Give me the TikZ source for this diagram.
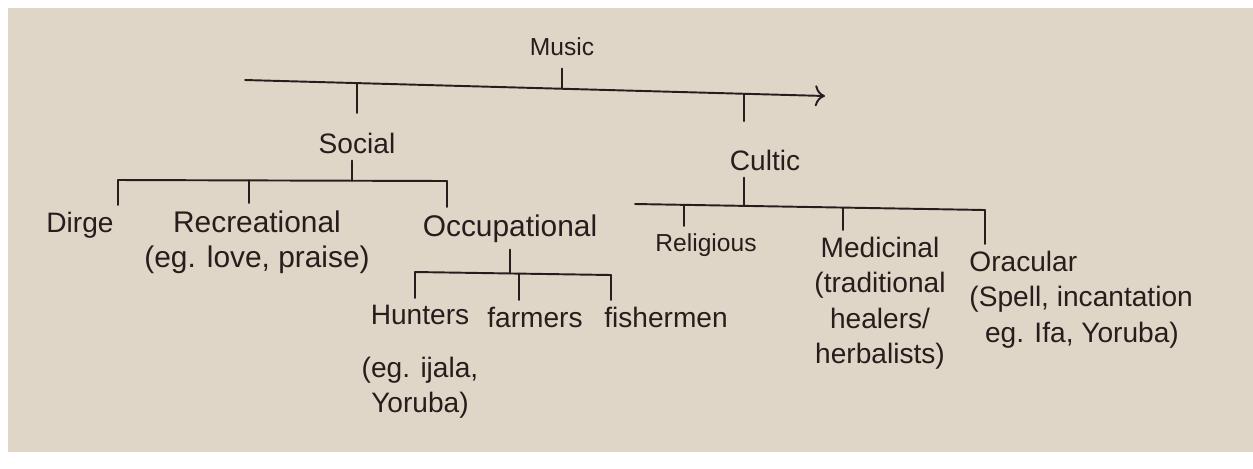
\documentclass[tikz,border=0pt]{standalone}
\usepackage{fontspec}
\setmainfont{Liberation Sans}
\usetikzlibrary{arrows.meta}
\usepackage{xcolor}
\definecolor{paper}{RGB}{224,214,200}
\definecolor{ink}{RGB}{38,30,28}

\begin{document}
\begin{tikzpicture}[x=0.02cm, y=-0.02cm,
  word/.style={text=ink, font=\fontsize{16}{20}\selectfont, align=center, inner sep=4pt},
  bigword/.style={font=\fontsize{17}{20}\selectfont},
  smallword/.style={font=\fontsize{14}{17}\selectfont},
  line/.style={draw=ink, line width=1.1pt, line cap=round},
]
  % paper
  \fill[white] (0,0) rectangle (1253,468);
  \fill[paper] (8,8) rectangle (1253,452);
  \useasboundingbox (0,0) rectangle (1253,468);

  % top level
  \node[word, smallword] (music) at (562,47) {Music};
  \coordinate (topL) at (245,80);
  \coordinate (topR) at (825,96);
  \coordinate (topS) at (357,83.1);
  \coordinate (topM) at (562,88.7);
  \coordinate (topC) at (744,93.8);
  \draw[line, -{To[length=2mm]}] (topL) -- (topR);
  \draw[line, shorten <=3pt] (music) -- (topM);

  \node[word] (social) at (357,143) {Social};
  \node[word] (cultic) at (765,160) {Cultic};
  \draw[line, shorten >=7pt] (topS) -- (topS |- social.north);
  \draw[line, shorten >=12pt] (topC) -- (topC |- cultic.north);

  % social branch
  \coordinate (socL) at (118,180);
  \coordinate (socR) at (447,181);
  \coordinate (socM) at (352,180.7);
  \coordinate (socRec) at (249,180.4);
  \draw[line] (socL) -- (socR);
  \draw[line] (socM |- social.south) -- (socM);
  \node[word, anchor=north] (dirge) at (80,205) {Dirge};
  \node[word, bigword, anchor=north] (recreational) at (257,203) {Recreational\\(eg. love, praise)};
  \node[word, bigword, anchor=north] (occupational) at (510,207) {Occupational};
  \draw[line] (socL) -- (socL |- dirge.north);
  \draw[line] (socRec) -- (socRec |- recreational.north);
  \draw[line] (socR) -- (socR |- occupational.north);

  % occupational branch
  \coordinate (occL) at (415,272);
  \coordinate (occR) at (611,275);
  \coordinate (occM) at (510,273.5);
  \coordinate (occF) at (519,273.6);
  \draw[line] (occL) -- (occR);
  \draw[line] (occM |- occupational.south) -- (occM);
  \node[word, anchor=north] (hunters) at (420,298) {Hunters\\[10pt](eg. ijala,\\Yoruba)};
  \node[word, anchor=north] (farmers) at (535,300) {farmers};
  \node[word, anchor=north] (fishermen) at (666,300) {fishermen};
  \draw[line] (occL) -- (occL |- hunters.north);
  \draw[line] (occF) -- (occF |- farmers.north);
  \draw[line] (occR) -- (occR |- fishermen.north);

  % cultic branch
  \coordinate (culL) at (635,204);
  \coordinate (culR) at (985,210);
  \coordinate (culM) at (744,205.9);
  \coordinate (culRel) at (684,204.8);
  \coordinate (culMed) at (843,207.6);
  \draw[line] (culL) -- (culR);
  \draw[line] (culM |- cultic.south) -- (culM);
  \node[word, smallword, anchor=north] (religious) at (706,226) {Religious};
  \node[word, anchor=north] (medicinal) at (880,230) {Medicinal\\(traditional\\healers/\\herbalists)};
  \node[word, align=left, anchor=north west] (oracular) at (962,244) {Oracular\\(Spell, incantation\\\ \ eg. Ifa, Yoruba)};
  \draw[line] (culRel) -- (culRel |- religious.north);
  \draw[line] (culMed) -- (culMed |- medicinal.north);
  \draw[line] (culR) -- (culR |- oracular.north);
\end{tikzpicture}
\end{document}
